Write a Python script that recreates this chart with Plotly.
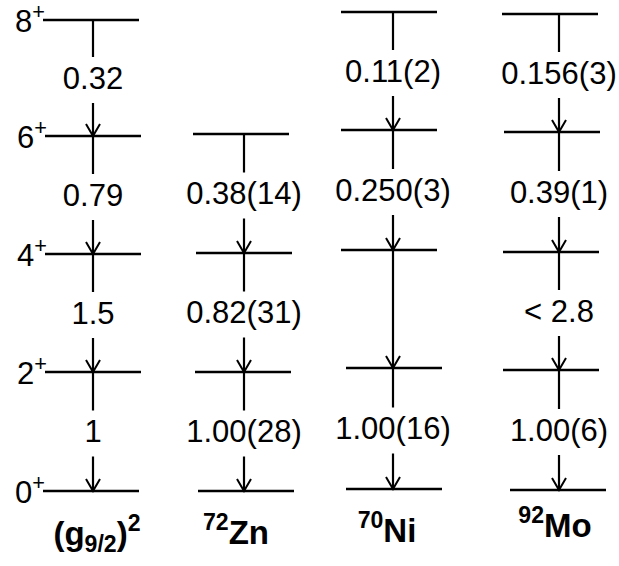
import plotly.graph_objects as go

# ---- data -------------------------------------------------------------
nuclei = ["(g9/2)^2", "72Zn", "70Ni", "92Mo"]
nucleus_labels = ["<b>(g<sub>9/2</sub>)<sup>2</sup></b>", "<b><sup>72</sup>Zn</b>",
                  "<b><sup>70</sup>Ni</b>", "<b><sup>92</sup>Mo</b>"]
spin_labels = ["0<sup>+</sup>", "2<sup>+</sup>", "4<sup>+</sup>", "6<sup>+</sup>", "8<sup>+</sup>"]

# schematic level heights (drawing units, 0+ ground state at ~0)
g_levels = [0, 119, 237, 355, 471]
zn_levels = [0, 119, 238, 357]
ni_levels = [2, 123, 241, 361, 479]
mo_levels = [1, 121, 239, 359, 477]

# B(E2; J -> J-2) ratios, lowest transition first ("" = no value shown)
g_be2 = ["1", "1.5", "0.79", "0.32"]
zn_be2 = ["1.00(28)", "0.82(31)", "0.38(14)"]
ni_be2 = ["1.00(16)", "", "0.250(3)", "0.11(2)"]
mo_be2 = ["1.00(6)", "< 2.8", "0.39(1)", "0.156(3)"]

# ---- layout of the drawing ------------------------------------------
levels = [g_levels, zn_levels, ni_levels, mo_levels]
be2 = [g_be2, zn_be2, ni_be2, mo_be2]
arrow_x = [93, 244, 393, 559]
level_left = [[43, 45, 45, 45, 43], [198, 195, 196, 193],
              [346, 346, 341, 341, 341], [510, 503, 503, 504, 502]]
level_width = 96
gap_above = 24
gap_below = 22
head_w, head_h = 7, 12
label_pos = [(97, -46), (236, -45), (387, -43), (555, -38)]

FONT = "Liberation Sans, Arial, Helvetica, sans-serif"

lx, ly = [], []
ax, ay = [], []
hx, hy = [], []
tx, ty, tt = [], [], []
for col, lev in enumerate(levels):
    for k, e in enumerate(lev):
        x0 = level_left[col][k]
        lx += [x0, x0 + level_width, None]
        ly += [e, e, None]
    xa = arrow_x[col]
    for k, lab in enumerate(be2[col]):
        lo, hi = lev[k], lev[k + 1]
        mid = (lo + hi) / 2 - 3
        if lab:
            ax += [xa, xa, None, xa, xa, None]
            ay += [hi, mid + gap_above, None, mid - gap_below, lo, None]
            tx.append(xa); ty.append(mid); tt.append(lab)
        else:
            ax += [xa, xa, None]
            ay += [hi, lo, None]
        hx += [xa - head_w, xa, xa + head_w, None]
        hy += [lo + head_h, lo, lo + head_h, None]

fig = go.Figure()
fig.add_trace(go.Scatter(x=lx, y=ly, mode="lines",
                         line=dict(color="black", width=2.5), hoverinfo="skip"))
fig.add_trace(go.Scatter(x=ax, y=ay, mode="lines",
                         line=dict(color="black", width=2.2), hoverinfo="skip"))
fig.add_trace(go.Scatter(x=hx, y=hy, mode="lines",
                         line=dict(color="black", width=2), hoverinfo="skip"))
fig.add_trace(go.Scatter(x=tx, y=ty, mode="text", text=tt, textposition="middle center",
                         textfont=dict(family=FONT, size=31, color="black"), hoverinfo="skip"))
# spin labels
fig.add_trace(go.Scatter(x=[level_left[0][k] + 2 for k in range(5)],
                         y=[e - 4 for e in g_levels], mode="text", text=spin_labels,
                         textposition="middle left",
                         textfont=dict(family=FONT, size=31, color="black"), hoverinfo="skip"))
# nucleus labels
fig.add_trace(go.Scatter(x=[p[0] for p in label_pos], y=[p[1] for p in label_pos],
                         mode="text", text=nucleus_labels, textposition="middle center",
                         textfont=dict(family=FONT, size=33, color="black"), hoverinfo="skip"))

fig.update_layout(
    width=619, height=566, margin=dict(l=0, r=0, t=0, b=0),
    paper_bgcolor="white", plot_bgcolor="white", showlegend=False,
    xaxis=dict(range=[0, 619], visible=False, fixedrange=True),
    yaxis=dict(range=[-75, 491], visible=False, fixedrange=True),
)
fig.write_html("out.html", config={"displayModeBar": False},
               post_script="document.body.style.margin='0';document.body.style.overflow='hidden';")
